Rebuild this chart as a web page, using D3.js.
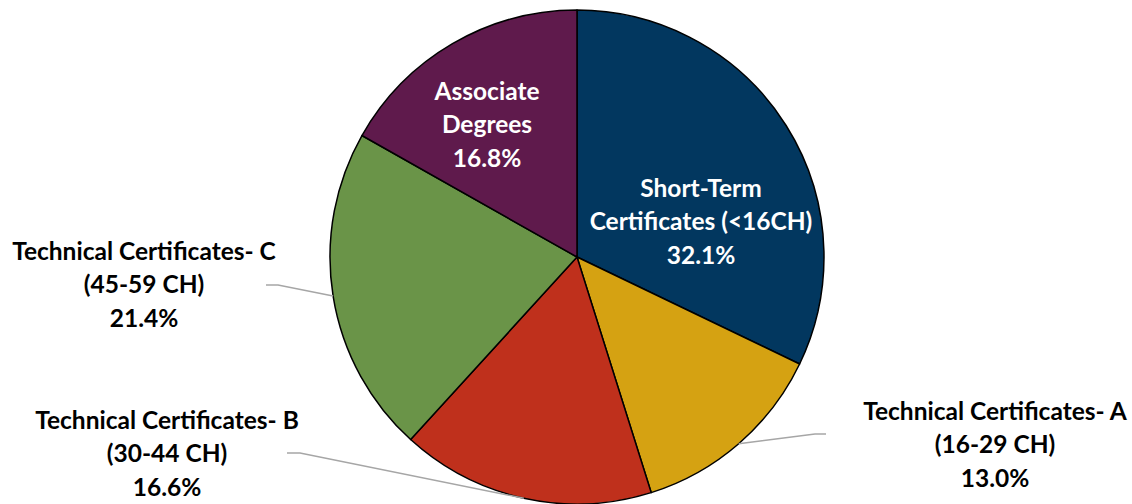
<!doctype html>
<html lang="en">
<head>
  <meta charset="utf-8">
  <script src="https://cdn.jsdelivr.net/npm/d3@7"></script>
</head>
<style>
    body { margin: 0; background: white; }
    svg { display: block; font-family: Lato, "Open Sans", sans-serif; font-weight: bold; }
</style>
<body>
<script>
    // data
    let categories = [
        ["Short-Term", "Certificates (<16CH)"],
        ["Technical Certificates- A", "(16-29 CH)"],
        ["Technical Certificates- B", "(30-44 CH)"],
        ["Technical Certificates- C", "(45-59 CH)"],
        ["Associate", "Degrees"]
    ]
    let shares = [32.1, 13.0, 16.6, 21.4, 16.8]
    let colors = ["#02375f", "#d5a212", "#bf301c", "#6a9448", "#5f1a4c"]

    // label layout: inside labels get a center, outside ones a label center + leader elbow
    let layout = [
        {inside: true, x: 701, y: 188},
        {inside: false, x: 995, y: 411, elbow: [815, 434], end: [826, 434]},
        {inside: false, x: 167, y: 420, elbow: [300, 453], end: [287, 453]},
        {inside: false, x: 144, y: 251, elbow: [278, 285], end: [266, 285]},
        {inside: true, x: 487, y: 91}
    ]

    let width = 1132, height = 504
    let cx = 577, cy = 257, r = 247
    let lineH = 33.5

    let svg = d3.select('body').append('svg')
        .attr('width', width)
        .attr('height', height)

    let pie = d3.pie().sort(null).value(d => d)
    let arcs = pie(shares)
    let arc = d3.arc().innerRadius(0).outerRadius(r)
    let edge = d3.arc().innerRadius(r).outerRadius(r)

    let g = svg.append('g').attr('transform', `translate(${cx},${cy})`)

    // leader lines first, so slices cover their ends
    arcs.forEach((a, i) => {
        let l = layout[i]
        if (l.inside) return
        let p = edge.centroid(a)
        let pts = [[p[0] + cx, p[1] + cy], l.elbow, l.end]
        svg.append('path')
            .attr('d', d3.line()(pts))
            .attr('fill', 'none')
            .attr('stroke', '#a6a6a6')
            .attr('stroke-width', 1.5)
    })

    g.selectAll('path.slice')
        .data(arcs)
        .enter()
        .append('path')
        .attr('class', 'slice')
        .attr('d', arc)
        .attr('fill', (d, i) => colors[i])
        .attr('stroke', 'black')
        .attr('stroke-width', 1.5)
        .attr('stroke-linejoin', 'round')

    arcs.forEach((a, i) => {
        let l = layout[i]
        let lines = categories[i].concat([shares[i].toFixed(1) + '%'])
        let t = svg.append('text')
            .attr('text-anchor', 'middle')
            .attr('font-size', '24.5px')
            .attr('fill', l.inside ? 'white' : 'black')
        lines.forEach((s, k) => {
            t.append('tspan')
                .attr('x', l.x)
                .attr('y', l.y + k * lineH)
                .attr('dy', '0.35em')
                .text(s)
        })
    })
</script>
</body>
</html>
